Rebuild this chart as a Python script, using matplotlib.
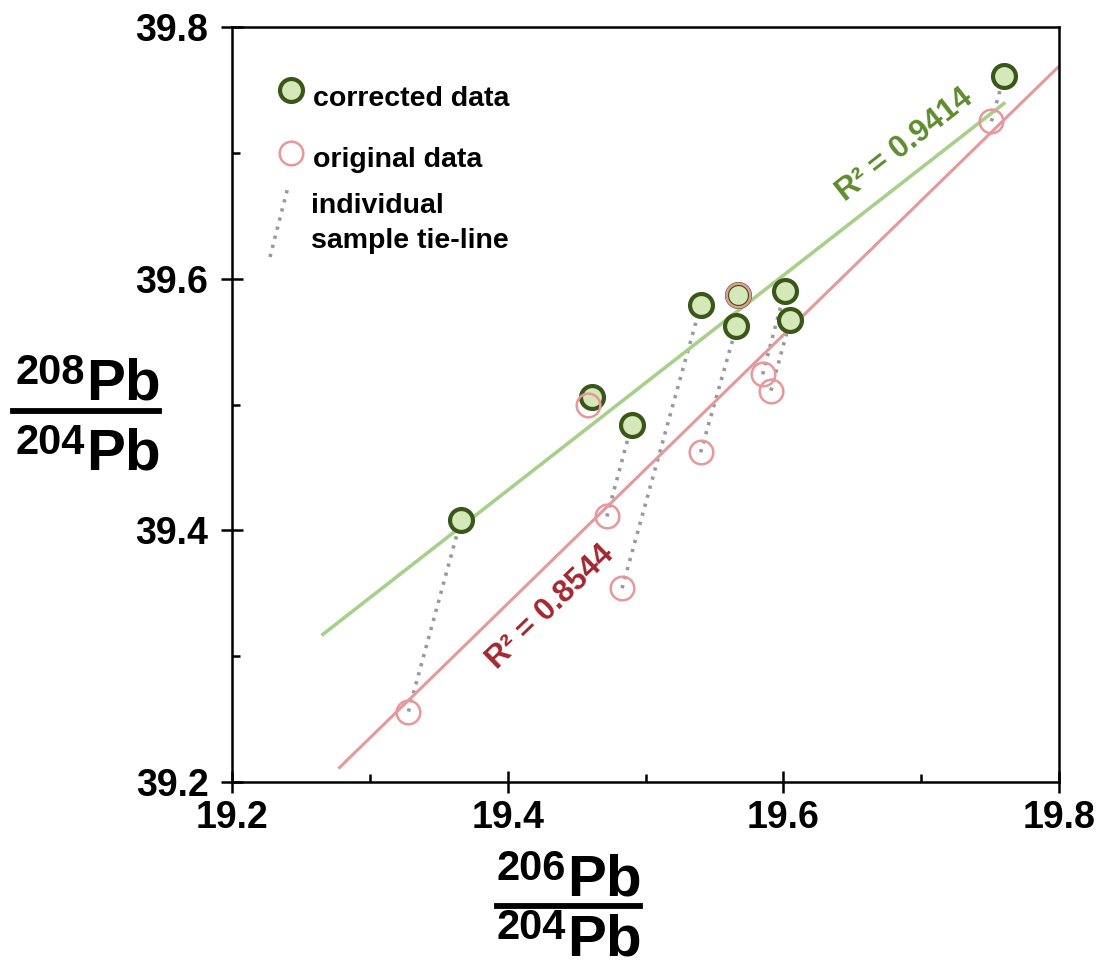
import numpy as np
import matplotlib
matplotlib.use("Agg")
import matplotlib.pyplot as plt
from matplotlib.lines import Line2D

plt.rcParams['font.family'] = ['Liberation Sans', 'DejaVu Sans']
plt.rcParams['font.weight'] = 'bold'

# 206Pb/204Pb and 208Pb/204Pb per sample (same order in both sets)
corr_x = [19.366, 19.461, 19.490, 19.540, 19.566, 19.567, 19.601, 19.605, 19.760]
corr_y = [39.408, 39.506, 39.484, 39.579, 39.562, 39.587, 39.590, 39.567, 39.761]
orig_x = [19.328, 19.458, 19.472, 19.483, 19.540, 19.567, 19.585, 19.591, 19.751]
orig_y = [39.256, 39.500, 39.411, 39.354, 39.462, 39.587, 39.524, 39.511, 39.725]

r2_corr = "R\u00b2 = 0.9414"
r2_orig = "R\u00b2 = 0.8544"

green_fill = '#d5e8b9'
green_edge = '#3a5719'
green_line = '#a9d08b'
green_text = '#5e8c2e'
pink_edge = '#e8979b'
pink_line = '#e6999c'
pink_text = '#a3282f'
tie_col = '#999999'
tie_ls = (0, (0.9, 1.7))

W, H = 1101, 969
fig = plt.figure(figsize=(W/100, H/100), dpi=100)
ax = fig.add_axes([232/W, 1-782/H, (1059-232)/W, (782-27)/H])

# tie lines
for xc, yc, xo, yo in zip(corr_x, corr_y, orig_x, orig_y):
    ax.plot([xo, xc], [yo, yc], color=tie_col, lw=2.6, ls=tie_ls, zorder=1)

# linear trendlines (Excel style forecast)
cx = np.array(corr_x); cy = np.array(corr_y)
ox = np.array(orig_x); oy = np.array(orig_y)
pc = np.polyfit(cx, cy, 1)
po = np.polyfit(ox, oy, 1)
xs_c = np.array([cx.min() - 0.1, cx.max()])
xs_o = np.array([ox.min() - 0.05, ox.max() + 0.05])
ax.plot(xs_c, np.polyval(pc, xs_c), color=green_line, lw=2.6, zorder=2)
ax.plot(xs_o, np.polyval(po, xs_o), color=pink_line, lw=2.2, zorder=2)

ax.plot(corr_x, corr_y, 'o', ms=16.5, mfc=green_fill, mec=green_edge, mew=3.0, ls='none', zorder=3)
ax.plot(orig_x, orig_y, 'o', ms=17, mfc='none', mec=pink_edge, mew=1.8, ls='none', zorder=4)

ax.text(19.688, 39.706, r2_corr, color=green_text, fontsize=22.5, fontweight='bold',
        rotation=38, rotation_mode='anchor', ha='center', va='center')
ax.text(19.431, 39.339, r2_orig, color=pink_text, fontsize=22.5, fontweight='bold',
        rotation=44, rotation_mode='anchor', ha='center', va='center')

# legend drawn by hand
t = ax.transAxes
ax.plot([0.0713], [0.9166], 'o', ms=16.5, mfc=green_fill, mec=green_edge, mew=3.0, transform=t, clip_on=False)
ax.plot([0.0713], [0.8330], 'o', ms=17, mfc='none', mec=pink_edge, mew=1.8, transform=t, clip_on=False)
ax.plot([0.0459, 0.0677], [0.6954, 0.7881], color=tie_col, lw=2.6, ls=tie_ls, transform=t)
ax.text(0.098, 0.8954, "corrected data", fontsize=20.5, fontweight='bold', transform=t, va='baseline')
ax.text(0.098, 0.8146, "original data", fontsize=20.5, fontweight='bold', transform=t, va='baseline')
ax.text(0.0955, 0.7536, "individual", fontsize=20.5, fontweight='bold', transform=t, va='baseline')
ax.text(0.0955, 0.7073, "sample tie-line", fontsize=20.5, fontweight='bold', transform=t, va='baseline')

ax.set_xlim(19.2, 19.8)
ax.set_ylim(39.2, 39.8)
ax.set_xticks([19.2, 19.4, 19.6, 19.8])
ax.set_yticks([39.2, 39.4, 39.6, 39.8])
ax.set_xticks([19.3, 19.5, 19.7], minor=True)
ax.set_yticks([39.3, 39.5, 39.7], minor=True)
ax.set_xticklabels(['19.2', '19.4', '19.6', '19.8'])
ax.set_yticklabels(['39.2', '39.4', '39.6', '39.8'])
ax.tick_params(which='major', direction='inout', length=16, width=1.8, labelsize=27, pad=5)
ax.tick_params(axis='y', which='major', pad=9)
ax.tick_params(which='minor', direction='in', length=6, width=1.8)
for lab in ax.get_xticklabels() + ax.get_yticklabels():
    lab.set_fontweight('bold')
for sp in ax.spines.values():
    sp.set_linewidth(1.8)


# fraction axis labels: isotope mass as a small raised number before "Pb"
def iso(xpx, base_px, mass):
    fig.text(xpx/W, 1-base_px/H, "Pb", fontsize=42, fontweight='bold', ha='left', va='baseline')
    fig.text((xpx-1)/W, 1-(base_px-16)/H, mass, fontsize=30, fontweight='bold', ha='right', va='baseline')


iso(86, 400, "208")
iso(86, 470, "204")
fig.add_artist(Line2D([13/W, 159/W], [1-411/H, 1-411/H], color='black', lw=4.2, transform=fig.transFigure))

iso(567, 896, "206")
iso(567, 955, "204")
fig.add_artist(Line2D([497/W, 640/W], [1-906/H, 1-906/H], color='black', lw=4.2, transform=fig.transFigure))

fig.savefig('out.png', dpi=100)
